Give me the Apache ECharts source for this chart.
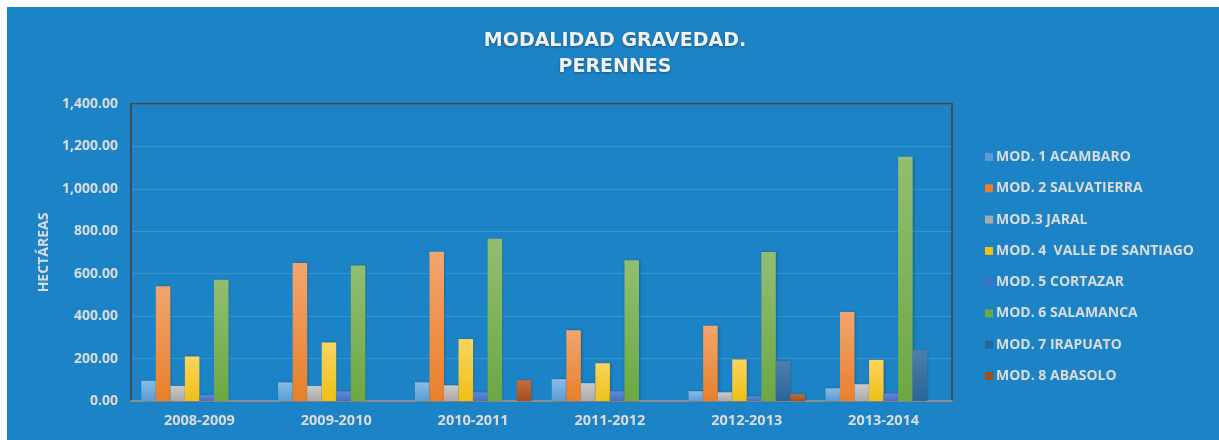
<!DOCTYPE html>
<html lang="es">
<head>
<meta charset="UTF-8">
<title>Modalidad Gravedad. Perennes</title>
<script src="https://cdn.jsdelivr.net/npm/echarts@6/dist/echarts.min.js"></script>
<style>
html, body { margin: 0; padding: 0; background: #ffffff; }
#chart { position: absolute; left: 7px; top: 7px; width: 1212px; height: 433px; }
</style>
</head>
<body>
<div id="chart"></div>
<script>
// ciclos agricolas
const ciclos = ['2008-2009', '2009-2010', '2010-2011', '2011-2012', '2012-2013', '2013-2014'];
const modulos = ['MOD. 1 ACAMBARO', 'MOD. 2 SALVATIERRA', 'MOD.3 JARAL', 'MOD. 4  VALLE DE SANTIAGO',
  'MOD. 5 CORTAZAR', 'MOD. 6 SALAMANCA', 'MOD. 7 IRAPUATO', 'MOD. 8 ABASOLO'];
// hectareas por modulo
const mod1 = [95, 88, 88, 103, 46, 60];
const mod2 = [541, 650, 703, 334, 355, 420];
const mod3 = [71, 71, 74, 84, 41, 79];
const mod4 = [210, 276, 292, 178, 196, 194];
const mod5 = [28, 46, 41, 46, 22, 36];
const mod6 = [572, 639, 765, 664, 702, 1151];
const mod7 = [0, 0, 0, 0, 188, 241];
const mod8 = [0, 0, 98, 0, 32, 0];
const yTicks = [0, 200, 400, 600, 800, 1000, 1200, 1400];

const valores = [mod1, mod2, mod3, mod4, mod5, mod6, mod7, mod8];
const colores = [
  ['#8bbce6', '#5b9bd5'],
  ['#f2a56f', '#e8802a'],
  ['#cbcbcb', '#a9a9a9'],
  ['#f9d560', '#efc016'],
  ['#6189d0', '#4471c3'],
  ['#91be72', '#6ca843'],
  ['#4e7eab', '#2a6598'],
  ['#c46c3c', '#a44f1e']
];
const txt = '#dcdcdc';

const chart = echarts.init(document.getElementById('chart'));
chart.setOption({
  backgroundColor: '#1c84c6',
  animation: false,
  title: {
    text: 'MODALIDAD GRAVEDAD.\nPERENNES',
    left: 603,
    top: 16,
    textAlign: 'center',
    textStyle: {
      color: '#f2f2f2',
      fontFamily: 'DejaVu Sans',
      fontWeight: 'bold',
      fontSize: 19,
      lineHeight: 26,
      textShadowColor: 'rgba(0,0,0,0.35)',
      textShadowBlur: 3,
      textShadowOffsetY: 1
    }
  },
  legend: {
    orient: 'vertical',
    left: 973,
    top: 138,
    itemWidth: 8,
    itemHeight: 8,
    itemGap: 17.3,
    icon: 'rect',
    data: modulos.map((m, i) => ({ name: m, itemStyle: { color: colores[i][1] } })),
    textStyle: {
      color: txt,
      fontFamily: 'Open Sans',
      fontWeight: 'bold',
      fontSize: 14,
      padding: [0, 0, 0, -2]
    }
  },
  grid: {
    left: 124,
    right: 267,
    top: 97,
    bottom: 39,
    show: true,
    borderColor: '#3d4b57',
    borderWidth: 2,
    backgroundColor: 'transparent'
  },
  xAxis: {
    type: 'category',
    data: ciclos,
    axisLine: { lineStyle: { color: '#8a8f94', width: 2 } },
    axisTick: { show: false },
    axisLabel: {
      color: txt,
      fontFamily: 'Open Sans',
      fontWeight: 'bold',
      fontSize: 14.5,
      margin: 12
    }
  },
  yAxis: {
    type: 'value',
    min: yTicks[0],
    max: yTicks[yTicks.length - 1],
    interval: 200,
    name: 'HECTÁREAS',
    nameLocation: 'middle',
    nameRotate: 90,
    nameGap: 80,
    nameTextStyle: {
      color: txt,
      fontFamily: 'Open Sans',
      fontWeight: 'bold',
      fontSize: 14
    },
    axisLine: { show: true, lineStyle: { color: '#3d4b57', width: 2 } },
    axisTick: { show: false },
    splitLine: { lineStyle: { color: 'rgba(255,255,255,0.13)', width: 1 } },
    axisLabel: {
      color: txt,
      fontFamily: 'Open Sans',
      fontWeight: 'bold',
      fontSize: 14,
      margin: 13,
      formatter: v => v.toLocaleString('en-US', { minimumFractionDigits: 2, maximumFractionDigits: 2 })
    }
  },
  series: modulos.map((m, i) => ({
    name: m,
    type: 'bar',
    data: valores[i],
    barGap: '0%',
    barCategoryGap: '15%',
    itemStyle: {
      color: {
        type: 'linear', x: 0, y: 0, x2: 0, y2: 1,
        colorStops: [
          { offset: 0, color: colores[i][0] },
          { offset: 1, color: colores[i][1] }
        ]
      },
      shadowColor: 'rgba(0,0,0,0.25)',
      shadowBlur: 3,
      shadowOffsetX: 1
    }
  }))
});
</script>
</body>
</html>
